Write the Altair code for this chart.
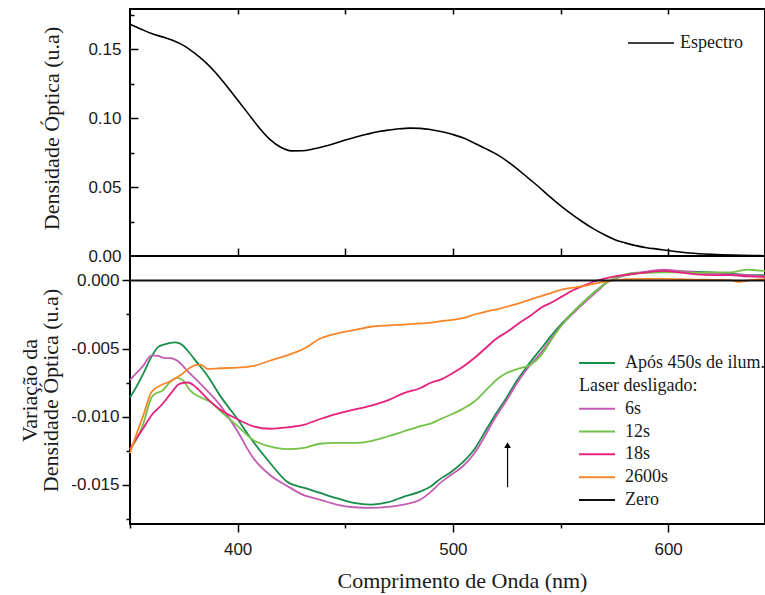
import altair as alt
import pandas as pd

SANS = "Liberation Sans"
SERIF = "Liberation Serif"
INK = "#1a1a1a"

# ---- geometry of the two stacked panels (pixels) ----
PLOT_W = 635
TOP_H = 247
BOT_H = 268

X_DOMAIN = [350, 645]
TOP_DOMAIN = [0, 0.179]
BOT_DOMAIN = [-0.0179, 0.0018]

# ---- absorption spectrum (top panel) ----
spec_nm = [350, 355, 360, 365, 370, 375, 380, 385, 390, 395, 400, 405, 410, 415, 420,
           425, 430, 435, 440, 445, 450, 455, 460, 465, 470, 475, 480, 485, 490, 495,
           500, 505, 510, 515, 520, 525, 530, 535, 540, 545, 550, 555, 560, 565, 570,
           575, 580, 585, 590, 595, 600, 610, 620, 630, 640, 645]
spec_od = [0.168, 0.1645, 0.1612, 0.1588, 0.1562, 0.1525, 0.147, 0.1405, 0.1325, 0.123, 0.113,
           0.103, 0.093, 0.0845, 0.0788, 0.0762, 0.0763, 0.0775, 0.0793, 0.0815, 0.0840,
           0.0862, 0.0882, 0.0900, 0.0912, 0.0922, 0.0927, 0.0925, 0.0915, 0.0900, 0.0880,
           0.0855, 0.0818, 0.0780, 0.0740, 0.0690, 0.0630, 0.0565, 0.0500, 0.0430, 0.0365,
           0.0305, 0.0250, 0.0200, 0.0157, 0.0120, 0.0095, 0.0075, 0.0060, 0.0050, 0.0040,
           0.0022, 0.0012, 0.0006, 0.0003, 0.0002]

# ---- difference spectra (bottom panel) ----
apos_nm = [350, 353, 356, 360, 363, 366, 371, 374, 377, 381, 386, 392, 400, 407, 415, 423,
           431, 438, 446, 454, 462, 470, 477, 485, 490, 494, 499, 505, 510, 515, 520, 525,
           530, 535, 541, 546, 551, 556, 562, 567, 572, 578, 582, 587, 592, 598, 605, 613,
           621, 629, 637, 645]
apos_dod = [-0.0086, -0.0078, -0.0069, -0.0056, -0.0049, -0.0047, -0.00455, -0.0047, -0.0052,
            -0.0060, -0.0070, -0.0085, -0.0102, -0.0118, -0.0134, -0.0148, -0.01525, -0.0156,
            -0.0160, -0.01635, -0.01647, -0.0163, -0.0159, -0.0155, -0.0151, -0.0146, -0.0141,
            -0.0133, -0.0124, -0.0111, -0.0098, -0.0086, -0.0073, -0.0062, -0.0050, -0.0040,
            -0.0031, -0.0023, -0.0014, -0.0007, -0.0001, 0.0003, 0.00045, 0.00056, 0.0006,
            0.00064, 0.00065, 0.00064, 0.0006, 0.0005, 0.0004, 0.0004]

s6_nm = [350, 353, 356, 360, 363, 366, 369, 372, 377, 384, 392, 400, 407, 415, 423, 431,
         438, 446, 454, 462, 470, 477, 485, 490, 494, 499, 505, 510, 515, 520, 525, 530,
         535, 541, 546, 551, 556, 562, 567, 572, 578, 582, 587, 592, 598, 605, 613, 621,
         629, 637, 645]
s6_dod = [-0.0073, -0.0068, -0.0063, -0.0055, -0.00555, -0.0057, -0.0057, -0.0059, -0.0067,
          -0.0078, -0.0092, -0.0111, -0.0130, -0.0143, -0.0151, -0.0158, -0.0161, -0.01647,
          -0.01667, -0.01672, -0.01664, -0.01647, -0.0161, -0.0155, -0.0149, -0.0143, -0.0136,
          -0.0127, -0.0114, -0.0100, -0.0088, -0.0075, -0.0064, -0.0053, -0.0042, -0.0032,
          -0.0024, -0.0015, -0.0008, -0.0001, 0.0003, 0.0005, 0.0006, 0.0007, 0.0008, 0.0007,
          0.0006, 0.0005, 0.00045, 0.0004, 0.0003]

s12_nm = [350, 353, 356, 360, 362, 365, 369, 372, 375, 378, 383, 388, 392, 400, 407, 415,
          423, 431, 438, 446, 454, 462, 470, 477, 485, 490, 494, 500, 505, 510, 517, 521,
          525, 530, 536, 541, 546, 551, 556, 562, 567, 572, 577, 582, 590, 598, 605, 613,
          621, 629, 633, 637, 641, 645]
s12_dod = [-0.0124, -0.0117, -0.0106, -0.0086, -0.0083, -0.0081, -0.0074, -0.00716, -0.0074,
           -0.0081, -0.0086, -0.0090, -0.0096, -0.0107, -0.0117, -0.0122, -0.0124, -0.0123,
           -0.0120, -0.01194, -0.01194, -0.0118, -0.01145, -0.0111, -0.0107, -0.0105, -0.0102,
           -0.0098, -0.0094, -0.0089, -0.0078, -0.0072, -0.0068, -0.0065, -0.0062, -0.0055,
           -0.0043, -0.0032, -0.0023, -0.0014, -0.0007, -0.0001, 0.0003, 0.0005, 0.00058,
           0.0006, 0.0006, 0.00056, 0.0006, 0.0006, 0.0007, 0.0008, 0.00075, 0.0007]

s18_nm = [350, 353, 356, 360, 365, 369, 373, 377, 381, 386, 392, 400, 407, 415, 423, 431,
          438, 446, 454, 462, 470, 477, 485, 490, 494, 500, 505, 510, 515, 520, 526, 531,
          536, 541, 546, 551, 556, 562, 567, 572, 577, 582, 590, 598, 605, 613, 621, 629,
          637, 645]
s18_dod = [-0.0124, -0.0116, -0.0109, -0.0099, -0.0091, -0.0083, -0.0076, -0.0075, -0.0079,
           -0.0087, -0.0095, -0.0102, -0.0107, -0.0109, -0.0108, -0.0106, -0.0102, -0.0098,
           -0.0095, -0.0092, -0.0088, -0.0083, -0.0079, -0.0075, -0.0073, -0.0068, -0.0063,
           -0.0057, -0.0050, -0.0043, -0.0037, -0.0031, -0.0026, -0.0020, -0.0016, -0.00115,
           -0.0007, -0.0003, 0.0000, 0.0002, 0.00035, 0.00044, 0.0006, 0.0007, 0.0006,
           0.00045, 0.0004, 0.0004, 0.0003, 0.00027]

s2600_nm = [350, 353, 356, 360, 365, 369, 374, 378, 381, 383, 386, 392, 400, 407, 415, 423,
            431, 438, 446, 454, 462, 470, 477, 485, 490, 494, 500, 505, 510, 515, 521, 528,
            536, 544, 551, 557, 562, 567, 572, 577, 582, 590, 598, 605, 613, 621, 629, 633,
            637, 645]
s2600_dod = [-0.0127, -0.0113, -0.0100, -0.0082, -0.00765, -0.0074, -0.0069, -0.0064, -0.0062,
             -0.0062, -0.0065, -0.00645, -0.0064, -0.0063, -0.0059, -0.0055, -0.0050, -0.0043,
             -0.0039, -0.00365, -0.0034, -0.0033, -0.00324, -0.00316, -0.0031, -0.0030,
             -0.0029, -0.00275, -0.0025, -0.0023, -0.0021, -0.0018, -0.0014, -0.0010,
             -0.00066, -0.0005, -0.00037, -0.0002, -0.00005, 0.00005, 0.0001, 0.00012,
             0.00012, 0.0001, 0.00007, 0.00005, 0.00002, -0.0001, 0.0, 0.0001]

zero_nm = [350, 645]
zero_dod = [0.0, 0.0]

SERIES = ["Após 450s de ilum.", "6s", "12s", "18s", "2600s", "Zero"]
COLORS = ["#178d4b", "#c45cb4", "#74c247", "#e5217c", "#f7862a", "#111111"]
CURVES = [apos_nm, s6_nm, s12_nm, s18_nm, s2600_nm, zero_nm]
VALUES = [apos_dod, s6_dod, s12_dod, s18_dod, s2600_dod, zero_dod]
LEGEND_ROWS = [0, 2, 3, 4, 5, 6]
LEGEND_HEADER = "Laser desligado:"

# tick positions
X_MAJOR = [400, 500, 600]
X_MINOR = [350, 450, 550]
X_INNER = [400, 450, 500, 550, 600]
TOP_MAJOR = [0.0, 0.05, 0.10, 0.15]
TOP_MINOR = [0.025, 0.075, 0.125, 0.175]
BOT_MAJOR = [0.0, -0.005, -0.010, -0.015]
BOT_MINOR = [-0.0025, -0.0075, -0.0125, -0.0175]

# ---- tables ----
spec_df = pd.DataFrame({"nm": spec_nm, "od": spec_od})
rows = []
for name, xs_, ys_ in zip(SERIES, CURVES, VALUES):
    for i, (a, b) in enumerate(zip(xs_, ys_)):
        rows.append({"serie": name, "nm": a, "dod": b, "ordem": i})
curves_df = pd.DataFrame(rows)
legend_df = pd.DataFrame({"serie": SERIES, "row": LEGEND_ROWS})
anchor_df = pd.DataFrame({"nm": [X_DOMAIN[0]], "v": [0.0]})
arrow_df = pd.DataFrame({"nm": [525.4], "y0": [-0.0152], "y1": [-0.0121]})


def x_scale():
    return alt.Scale(domain=X_DOMAIN, nice=False, zero=False)


def top_scale():
    return alt.Scale(domain=TOP_DOMAIN, range=[TOP_H, 0], nice=False, zero=False)


def bot_scale():
    return alt.Scale(domain=BOT_DOMAIN, range=[TOP_H + BOT_H, TOP_H], nice=False, zero=False)


color_scale = alt.Scale(domain=SERIES, range=COLORS)
minus_fix = "replace(datum.label, '\u2212', '-')"

# top panel: spectrum, bottom x axis with title, left labels
spectrum = alt.Chart(spec_df).mark_line(
    color="black", strokeWidth=1.6, interpolate="monotone").encode(
    x=alt.X("nm:Q", scale=x_scale(), axis=alt.Axis(
        orient="bottom", values=X_MAJOR, format="d", tickSize=8, labelPadding=9,
        domain=False, title="Comprimento de Onda (nm)", titleX=332, titleY=63,
        titleBaseline="alphabetic")),
    y=alt.Y("od:Q", scale=top_scale(), axis=alt.Axis(
        orient="left", values=TOP_MAJOR, format=".2f", ticks=False, labelPadding=9,
        domain=False, title="Densidade Óptica (u.a)", titleX=-67, titleY=119,
        titleAngle=270, titleBaseline="bottom")),
)

# short bottom ticks, inward major ticks on the top panel's left edge
ticks_a = alt.Chart(anchor_df).mark_point(opacity=0, size=1).encode(
    x=alt.X("nm:Q", scale=x_scale(), axis=alt.Axis(
        orient="bottom", values=X_MINOR, tickSize=4, labels=False, domain=False, title=None)),
    y=alt.Y("v:Q", scale=top_scale(), axis=alt.Axis(
        orient="right", offset=-PLOT_W, values=TOP_MAJOR[1:], tickSize=8, labels=False,
        domain=False, title=None)),
)

# inward ticks along the top edge, inward minor ticks on the top panel's left edge
ticks_b = alt.Chart(anchor_df).mark_point(opacity=0, size=1).encode(
    x=alt.X("nm:Q", scale=x_scale(), axis=alt.Axis(
        orient="bottom", offset=-(TOP_H + BOT_H), values=X_INNER, tickSize=5, labels=False,
        domain=False, title=None)),
    y=alt.Y("v:Q", scale=top_scale(), axis=alt.Axis(
        orient="right", offset=-PLOT_W, values=TOP_MINOR, tickSize=4, labels=False,
        domain=False, title=None)),
)

# upward ticks on the line separating the panels, minor ticks of the lower panel
ticks_c = alt.Chart(anchor_df).mark_point(opacity=0, size=1).encode(
    x=alt.X("nm:Q", scale=x_scale(), axis=alt.Axis(
        orient="top", offset=-TOP_H, values=X_INNER, tickSize=8, labels=False,
        domain=False, title=None)),
    y=alt.Y("v:Q", scale=bot_scale(), axis=alt.Axis(
        orient="left", values=BOT_MINOR, tickSize=4, labels=False, domain=False, title=None)),
)

# separator between the panels (spectrum baseline)
separator = alt.Chart(anchor_df).mark_rule(color="black", strokeWidth=2).encode(
    y=alt.Y("v:Q", scale=top_scale(), axis=None),
)

# bottom panel: difference spectra
curves = alt.Chart(curves_df).mark_line(strokeWidth=1.8, interpolate="monotone").encode(
    x=alt.X("nm:Q", scale=x_scale(), axis=None),
    y=alt.Y("dod:Q", scale=bot_scale(), axis=alt.Axis(
        orient="left", values=BOT_MAJOR, format=".3f", labelExpr=minus_fix, tickSize=8,
        labelPadding=3, domain=False, title=["Variação da", "Densidade Óptica (u.a)"],
        titleX=-89, titleAngle=270, titleBaseline="bottom", titleLineHeight=21)),
    color=alt.Color("serie:N", scale=color_scale, legend=None),
    detail="serie:N",
    order="ordem:Q",
)

# arrow marking the recovery direction
arrow_shaft = alt.Chart(arrow_df).mark_rule(color="black", strokeWidth=1.2).encode(
    x=alt.X("nm:Q", scale=x_scale(), axis=None),
    y=alt.Y("y0:Q", scale=bot_scale(), axis=None),
    y2="y1:Q",
)
arrow_head = alt.Chart(arrow_df).mark_point(
    shape="triangle-up", filled=True, color="black", size=45, opacity=1).encode(
    x=alt.X("nm:Q", scale=x_scale(), axis=None),
    y=alt.Y("y1:Q", scale=bot_scale(), axis=None),
)

# legends
leg_scale = alt.Scale(domain=[0, 6], range=[354, 491])
leg_lines = alt.Chart(legend_df).mark_rule(strokeWidth=2).encode(
    x=alt.value(449), x2=alt.value(485),
    y=alt.Y("row:Q", scale=leg_scale, axis=None),
    color=alt.Color("serie:N", scale=color_scale, legend=None),
)
leg_text = alt.Chart(legend_df).mark_text(
    align="left", baseline="middle", font=SERIF, fontSize=18, color=INK).encode(
    x=alt.value(495),
    y=alt.Y("row:Q", scale=leg_scale, axis=None),
    text="serie:N",
)
leg_header = alt.Chart(pd.DataFrame({"t": [LEGEND_HEADER], "row": [1]})).mark_text(
    align="left", baseline="middle", font=SERIF, fontSize=18, color=INK).encode(
    x=alt.value(449),
    y=alt.Y("row:Q", scale=leg_scale, axis=None),
    text="t:N",
)
spec_leg_line = alt.Chart(pd.DataFrame({"t": ["Espectro"]})).mark_rule(
    color="black", strokeWidth=1.6).encode(
    x=alt.value(498), x2=alt.value(544), y=alt.value(34),
)
spec_leg_text = alt.Chart(pd.DataFrame({"t": ["Espectro"]})).mark_text(
    align="left", baseline="middle", font=SERIF, fontSize=18, color=INK).encode(
    x=alt.value(550), y=alt.value(34), text="t:N",
)

chart = alt.layer(
    ticks_a, ticks_b, ticks_c, separator, spectrum, curves,
    arrow_shaft, arrow_head, leg_lines, leg_text, leg_header,
    spec_leg_line, spec_leg_text,
).resolve_scale(
    x="independent", y="independent"
).resolve_axis(
    x="independent", y="independent"
).properties(
    width=PLOT_W,
    height=TOP_H + BOT_H,
    autosize=alt.AutoSizeParams(type="none"),
    padding={"left": 130, "top": 9, "right": 0, "bottom": 71},
    background="white",
).configure_view(
    stroke="black", strokeWidth=2,
).configure_axis(
    grid=False,
    labelFont=SANS, labelFontSize=17, labelColor=INK,
    titleFont=SERIF, titleFontSize=22, titleFontWeight="normal", titleColor=INK,
    tickColor="black", tickWidth=1.5,
)

chart.save("out.html", embed_options={"renderer": "svg", "actions": False})
